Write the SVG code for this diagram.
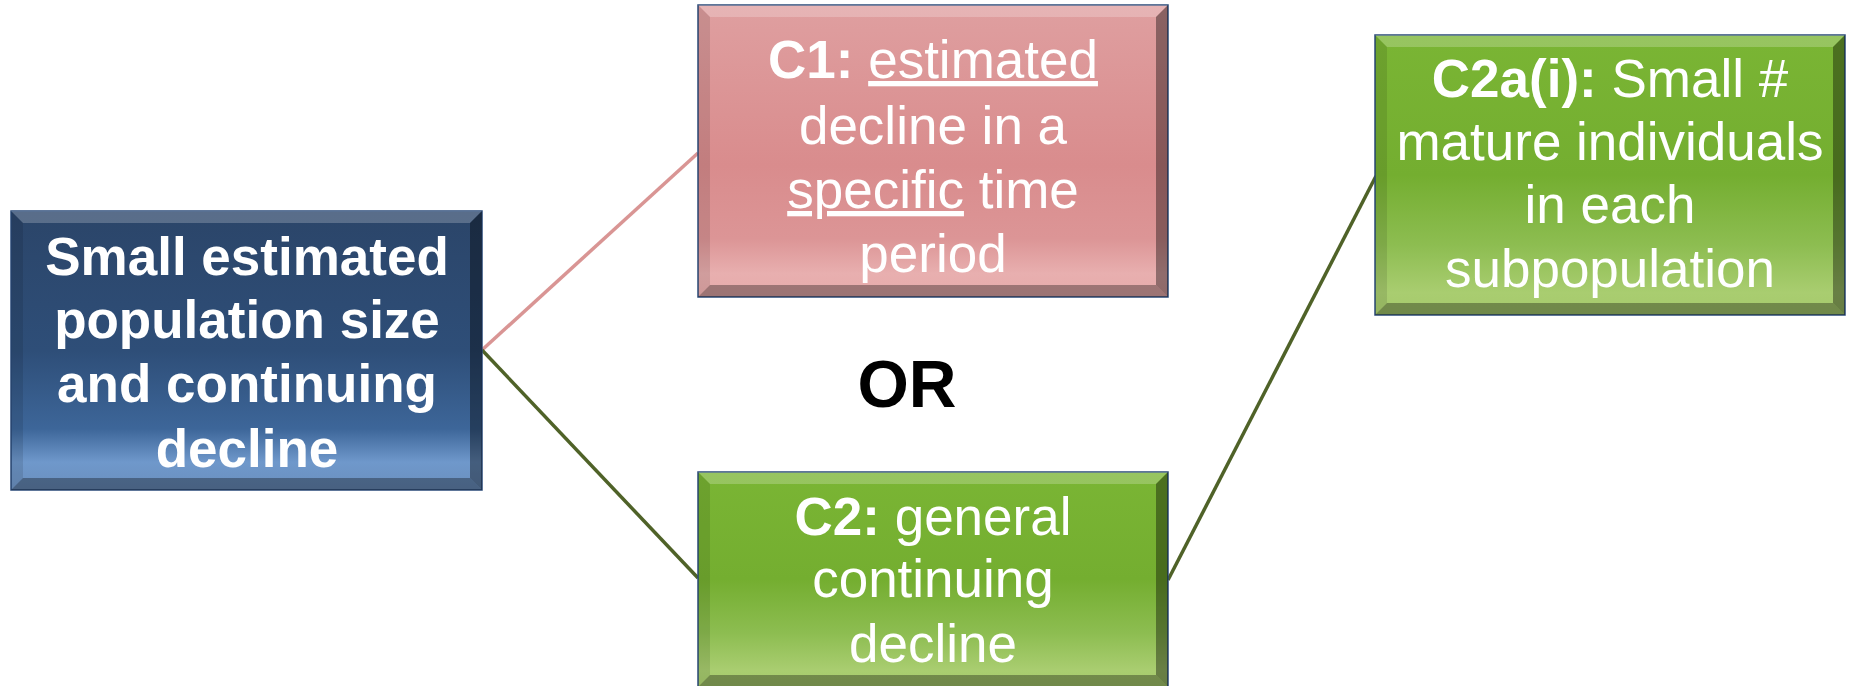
<svg xmlns="http://www.w3.org/2000/svg" width="1850" height="686" viewBox="0 0 1850 686">
  <defs>
    <linearGradient id="gBlue" x1="0" y1="0" x2="0" y2="1">
      <stop offset="0" stop-color="#2b4569"/>
      <stop offset="0.5" stop-color="#2e4e78"/>
      <stop offset="0.78" stop-color="#3d6699"/>
      <stop offset="0.9" stop-color="#6f98cb"/>
      <stop offset="1" stop-color="#6a8fbe"/>
    </linearGradient>
    <linearGradient id="gPink" x1="0" y1="0" x2="0" y2="1">
      <stop offset="0" stop-color="#df9fa0"/>
      <stop offset="0.55" stop-color="#d98c8d"/>
      <stop offset="0.8" stop-color="#dc9596"/>
      <stop offset="0.92" stop-color="#e8afaf"/>
      <stop offset="1" stop-color="#e6aaaa"/>
    </linearGradient>
    <linearGradient id="gGreen" x1="0" y1="0" x2="0" y2="1">
      <stop offset="0" stop-color="#7ab534"/>
      <stop offset="0.5" stop-color="#74ae30"/>
      <stop offset="0.75" stop-color="#8dbd51"/>
      <stop offset="0.92" stop-color="#a9cd70"/>
      <stop offset="1" stop-color="#a6ca6c"/>
    </linearGradient>
  </defs>
  <style>
    .box { stroke: #2a4a78; stroke-width: 1.5; }
    .bt { fill: #ffffff; fill-opacity: 0.22; }
    .br { fill: #000000; fill-opacity: 0.38; }
    .bb { fill: #000000; fill-opacity: 0.32; }
    .bl { fill: #000000; fill-opacity: 0.1; }
    .t { font-family: "Liberation Sans", Arial, sans-serif; font-size: 53px; fill: #ffffff; text-anchor: middle; }
    .b { font-weight: bold; }
    .u { text-decoration: underline; }
    .or { font-family: "Liberation Sans", Arial, sans-serif; font-size: 66px; font-weight: bold; fill: #000000; text-anchor: middle; }
    .conn line { stroke-width: 3.5; fill: none; }
  </style>

  <g id="connectors" class="conn">
    <line x1="482" y1="350" x2="698" y2="153" stroke="#d99594"/>
    <line x1="482" y1="350" x2="698" y2="578" stroke="#4f6228"/>
    <line x1="1168" y1="580" x2="1376" y2="176" stroke="#4f6228"/>
  </g>

  <g id="node-main">
    <rect class="box" x="11" y="211" width="471" height="279" fill="url(#gBlue)"/>
    <polygon class="bt" points="11,211 482,211 470,223 23,223"/>
    <polygon class="br" points="482,211 482,490 470,478 470,223"/>
    <polygon class="bb" points="11,490 482,490 470,478 23,478"/>
    <polygon class="bl" points="11,211 23,223 23,478 11,490"/>
    <text class="t b" x="247" y="275">Small estimated</text>
    <text class="t b" x="247" y="338">population size</text>
    <text class="t b" x="247" y="402">and continuing</text>
    <text class="t b" x="247" y="467">decline</text>
  </g>

  <g id="node-c1">
    <rect class="box" x="698" y="5" width="470" height="292" fill="url(#gPink)"/>
    <polygon class="bt" points="698,5 1168,5 1156,17 710,17"/>
    <polygon class="br" points="1168,5 1168,297 1156,285 1156,17"/>
    <polygon class="bb" points="698,297 1168,297 1156,285 710,285"/>
    <polygon class="bl" points="698,5 710,17 710,285 698,297"/>
    <text class="t" x="933" y="78"><tspan class="b">C1:</tspan> <tspan class="u">estimated</tspan></text>
    <text class="t" x="933" y="144">decline in a</text>
    <text class="t" x="933" y="208"><tspan class="u">specific</tspan> time</text>
    <text class="t" x="933" y="272">period</text>
  </g>

  <g id="node-c2">
    <rect class="box" x="698" y="472" width="470" height="215" fill="url(#gGreen)"/>
    <polygon class="bt" points="698,472 1168,472 1156,484 710,484"/>
    <polygon class="br" points="1168,472 1168,687 1156,675 1156,484"/>
    <polygon class="bb" points="698,687 1168,687 1156,675 710,675"/>
    <polygon class="bl" points="698,472 710,484 710,675 698,687"/>
    <text class="t" x="933" y="535"><tspan class="b">C2:</tspan> general</text>
    <text class="t" x="933" y="597">continuing</text>
    <text class="t" x="933" y="662">decline</text>
  </g>

  <g id="node-c2a">
    <rect class="box" x="1375" y="35" width="470" height="280" fill="url(#gGreen)"/>
    <polygon class="bt" points="1375,35 1845,35 1833,47 1387,47"/>
    <polygon class="br" points="1845,35 1845,315 1833,303 1833,47"/>
    <polygon class="bb" points="1375,315 1845,315 1833,303 1387,303"/>
    <polygon class="bl" points="1375,35 1387,47 1387,303 1375,315"/>
    <text class="t" x="1610" y="97"><tspan class="b">C2a(i):</tspan> Small #</text>
    <text class="t" x="1610" y="160">mature individuals</text>
    <text class="t" x="1610" y="223">in each</text>
    <text class="t" x="1610" y="287">subpopulation</text>
  </g>

  <g id="label-or">
    <text class="or" x="907" y="407">OR</text>
  </g>
</svg>
